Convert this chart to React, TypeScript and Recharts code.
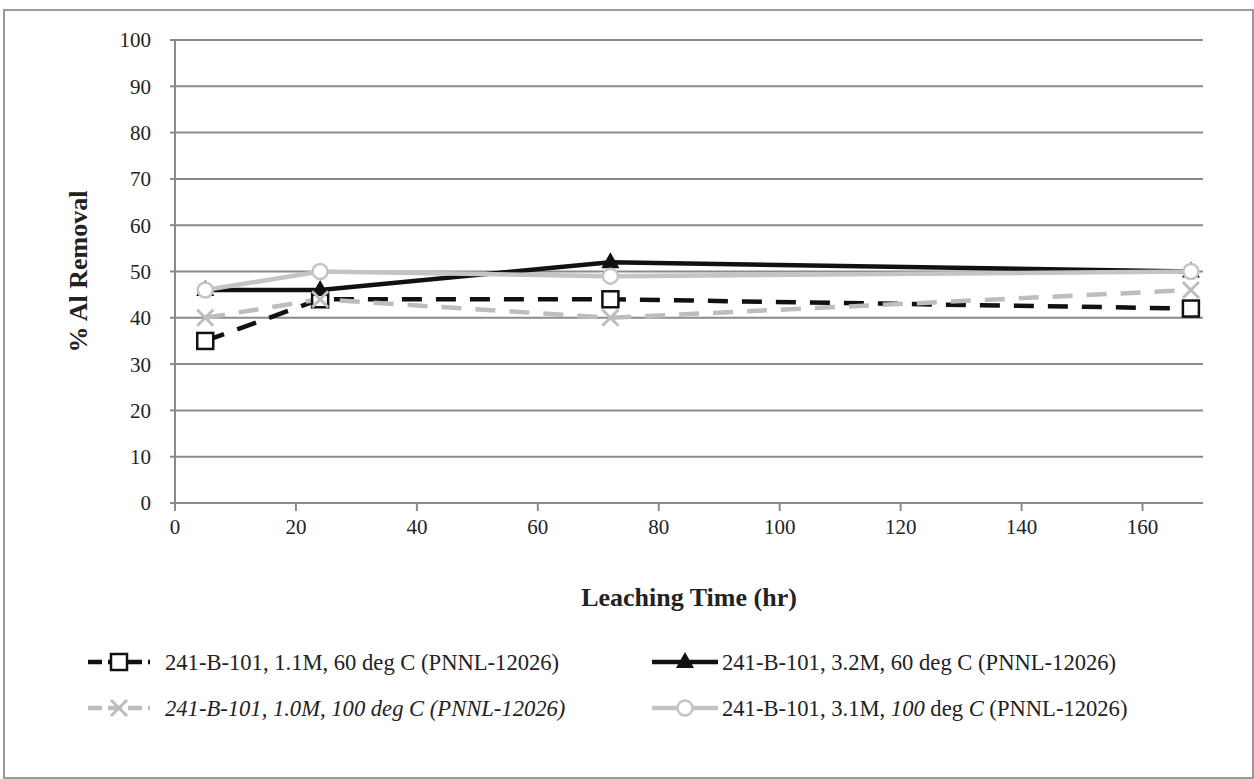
import {LineChart, Line, XAxis, YAxis, CartesianGrid, Legend} from 'recharts';

const hours = [5, 24, 72, 168];
const al11M60 = [35, 44, 44, 42];
const al32M60 = [46, 46, 52, 50];
const al10M100 = [40, 44, 40, 46];
const al31M100 = [46, 50, 49, 50];

const xTicks = [0, 20, 40, 60, 80, 100, 120, 140, 160];
const yTicks = [0, 10, 20, 30, 40, 50, 60, 70, 80, 90, 100];

const FONT = '"Liberation Serif", "DejaVu Serif", serif';

const data = hours.map((h, i) => ({
    hr: h,
    s1: al11M60[i],
    s2: al32M60[i],
    s3: al10M100[i],
    s4: al31M100[i],
}));

// marker shapes, drawn around (cx, cy)
const Marker = ({kind, cx, cy}: {kind: string, cx: number, cy: number}) => {
    if (kind === 'square') {
        return <rect x={cx - 8} y={cy - 8} width={16} height={16} fill="#fff" stroke="#111" strokeWidth={2.5}/>;
    }
    if (kind === 'triangle') {
        return <path d={`M${cx},${cy - 10} L${cx + 9},${cy + 6} L${cx - 9},${cy + 6} Z`} fill="#111"/>;
    }
    if (kind === 'cross') {
        return (
            <g stroke="#bdbdbd" strokeWidth={3}>
                <line x1={cx - 8} y1={cy - 8} x2={cx + 8} y2={cy + 8}/>
                <line x1={cx - 8} y1={cy + 8} x2={cx + 8} y2={cy - 8}/>
            </g>
        );
    }
    return <circle cx={cx} cy={cy} r={7.5} fill="#fff" stroke="#c4c4c4" strokeWidth={2.5}/>;
};

const dotOf = (kind: string) => (props: any) =>
    <Marker key={`${kind}-${props.index}`} kind={kind} cx={props.cx} cy={props.cy}/>;

const series = [
    {key: 's1', color: '#111', dash: '20 14', marker: 'square',
        label: [{t: '241-B-101, 1.1M, 60 deg C (PNNL-12026)'}]},
    {key: 's2', color: '#111', dash: undefined, marker: 'triangle',
        label: [{t: '241-B-101, 3.2M, 60 deg C (PNNL-12026)'}]},
    {key: 's3', color: '#bdbdbd', dash: '20 14', marker: 'cross',
        label: [{t: '241-B-101, 1.0M, 100 deg C (PNNL-12026)', i: true}]},
    {key: 's4', color: '#c4c4c4', dash: undefined, marker: 'circle',
        label: [{t: '241-B-101, 3.1M, '}, {t: '100', i: true}, {t: ' deg '}, {t: 'C', i: true}, {t: ' (PNNL-12026)'}]},
];

const LegendBox = () => (
    <svg width={1254} height={100}>
        {series.map((s, i) => {
            const x0 = i % 2 === 0 ? 88 : 652;
            const y = 20 + Math.floor(i / 2) * 46;
            const len = i % 2 === 0 ? 62 : 66;
            return (
                <g key={s.key}>
                    <line x1={x0} y1={y} x2={x0 + len} y2={y} stroke={s.color} strokeWidth={4.5}
                          strokeDasharray={s.dash ? '14 6' : undefined}/>
                    <Marker kind={s.marker} cx={x0 + len / 2} cy={y}/>
                    <text x={i % 2 === 0 ? x0 + 77 : x0 + 70} y={y} dy="0.35em" fontFamily={FONT} fontSize={22.6}
                          fill="#222">
                        {s.label.map((p, j) => <tspan key={j} fontStyle={p.i ? 'italic' : 'normal'}>{p.t}</tspan>)}
                    </text>
                </g>
            );
        })}
    </svg>
);

const YTitle = (props: any) => {
    const {viewBox} = props;
    const cx = viewBox.x + 78;
    const cy = viewBox.y + viewBox.height / 2;
    return (
        <text x={cx} y={cy} transform={`rotate(-90 ${cx} ${cy})`} textAnchor="middle" dominantBaseline="central"
              fontFamily={FONT} fontSize={26} fontWeight="bold" fill="#222">% Al Removal</text>
    );
};

const XTitle = (props: any) => {
    const {viewBox} = props;
    return (
        <text x={viewBox.x + viewBox.width / 2} y={viewBox.y + 94} textAnchor="middle" dominantBaseline="central"
              fontFamily={FONT} fontSize={26} fontWeight="bold" fill="#222">Leaching Time (hr)</text>
    );
};

export default function App() {
    return (
        <div style={{position: 'absolute', left: 0, top: 0, width: 1254, height: 779, background: '#fff'}}>
            <div style={{position: 'absolute', left: 3, top: 9, width: 1247, height: 766, border: '2px solid #9a9a9a'}}/>
            <LineChart width={1254} height={779} data={data}
                       margin={{top: 40, right: 51, left: 0, bottom: 166}}>
                <CartesianGrid vertical={false} stroke="#8a8a8a" strokeWidth={2}/>
                <XAxis dataKey="hr" type="number" domain={[0, 170]} ticks={xTicks} height={110}
                       stroke="#8a8a8a" strokeWidth={2} tickSize={8} tickMargin={8}
                       tick={{fill: '#222', fontSize: 21, fontFamily: FONT}}
                       label={{content: <XTitle/>}}/>
                <YAxis type="number" domain={[0, 100]} ticks={yTicks} width={175} interval={0}
                       stroke="#8a8a8a" strokeWidth={2} tickSize={5} tickMargin={19}
                       tick={{fill: '#222', fontSize: 21, fontFamily: FONT}}
                       label={{content: <YTitle/>}}/>
                <Legend layout="horizontal" verticalAlign="middle" align="center" content={<LegendBox/>}
                        wrapperStyle={{top: 642, left: 0, width: 1254, height: 100}}/>
                {series.map((s) => (
                    <Line key={s.key} dataKey={s.key} type="linear" stroke={s.color} strokeWidth={4.5}
                          strokeDasharray={s.dash} dot={dotOf(s.marker)} activeDot={false}
                          isAnimationActive={false}/>
                ))}
            </LineChart>
        </div>
    );
}
